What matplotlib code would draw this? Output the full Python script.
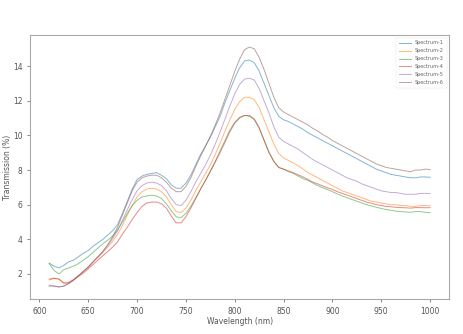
import numpy as np
import matplotlib
matplotlib.use("Agg")
import matplotlib.pyplot as plt

# wavelength grid (nm)
wavelength = np.arange(610, 1001, 5)

spectrum_1 = [2.62, 2.45, 2.35, 2.5, 2.7, 2.8, 3.0, 3.2, 3.35, 3.6, 3.8, 4.0, 4.25, 4.5, 4.85,
              5.5, 6.2, 6.9, 7.45, 7.65, 7.75, 7.8, 7.85, 7.7, 7.5, 7.15, 6.95, 6.95, 7.25, 7.7,
              8.3, 8.9, 9.4, 9.9, 10.5, 11.1, 11.9, 12.6, 13.3, 13.9, 14.3, 14.35, 14.2, 13.7, 13.0,
              12.3, 11.6, 11.1, 10.9, 10.8, 10.65, 10.5, 10.35, 10.15, 10.0, 9.85, 9.7, 9.55, 9.4, 9.25,
              9.1, 8.95, 8.8, 8.65, 8.5, 8.35, 8.2, 8.05, 7.95, 7.85, 7.75, 7.7, 7.65, 7.6, 7.55,
              7.55, 7.6, 7.6, 7.58]

spectrum_2 = [1.65, 1.75, 1.7, 1.5, 1.5, 1.7, 1.9, 2.15, 2.4, 2.7, 2.95, 3.25, 3.55, 3.9, 4.3,
              4.8, 5.4, 5.95, 6.45, 6.75, 6.9, 6.95, 6.9, 6.75, 6.45, 6.0, 5.6, 5.55, 5.8, 6.25,
              6.8, 7.3, 7.8, 8.3, 8.9, 9.55, 10.25, 10.9, 11.5, 11.95, 12.2, 12.2, 12.05, 11.6, 10.9,
              10.2, 9.5, 8.95, 8.7, 8.55, 8.4, 8.25, 8.05, 7.85, 7.7, 7.55, 7.4, 7.25, 7.1, 6.95,
              6.8, 6.7, 6.6, 6.5, 6.4, 6.3, 6.2, 6.15, 6.1, 6.05, 6.0, 6.0, 5.95, 5.95, 5.9,
              5.9, 5.95, 5.95, 5.94]

spectrum_3 = [2.6, 2.2, 2.0, 2.25, 2.35, 2.45, 2.6, 2.8, 3.0, 3.25, 3.5, 3.75, 3.95, 4.2, 4.55,
              5.0, 5.5, 5.95, 6.25, 6.45, 6.5, 6.55, 6.5, 6.35, 6.05, 5.65, 5.3, 5.25, 5.5, 5.9,
              6.4, 6.9, 7.4, 7.9, 8.45, 9.0, 9.6, 10.2, 10.7, 11.0, 11.15, 11.1, 10.9, 10.4, 9.75,
              9.05, 8.5, 8.15, 8.05, 7.9, 7.8, 7.65, 7.5, 7.4, 7.25, 7.1, 6.98, 6.87, 6.75, 6.62,
              6.5, 6.4, 6.3, 6.2, 6.1, 6.0, 5.93, 5.85, 5.78, 5.72, 5.68, 5.62, 5.6, 5.58, 5.56,
              5.6, 5.6, 5.56, 5.54]

spectrum_4 = [1.7, 1.75, 1.7, 1.45, 1.5, 1.65, 1.85, 2.05, 2.3, 2.55, 2.8, 3.05, 3.3, 3.55, 3.85,
              4.3, 4.7, 5.15, 5.55, 5.9, 6.1, 6.15, 6.15, 6.05, 5.8, 5.35, 4.95, 4.95, 5.3, 5.8,
              6.35, 6.9, 7.4, 7.95, 8.5, 9.1, 9.7, 10.3, 10.75, 11.05, 11.15, 11.15, 10.95, 10.45, 9.7,
              9.0, 8.5, 8.15, 8.05, 7.95, 7.85, 7.72, 7.6, 7.45, 7.3, 7.2, 7.08, 6.97, 6.88, 6.75,
              6.65, 6.55, 6.45, 6.35, 6.25, 6.15, 6.08, 6.0, 5.95, 5.9, 5.88, 5.85, 5.83, 5.82, 5.8,
              5.83, 5.83, 5.82, 5.83]

spectrum_5 = [1.35, 1.3, 1.25, 1.3, 1.45, 1.65, 1.9, 2.15, 2.4, 2.7, 3.0, 3.3, 3.65, 4.05, 4.5,
              5.1, 5.7, 6.3, 6.8, 7.1, 7.25, 7.3, 7.25, 7.1, 6.8, 6.35, 6.0, 5.95, 6.25, 6.75,
              7.3, 7.8, 8.3, 8.85, 9.5, 10.2, 10.95, 11.7, 12.4, 12.95, 13.25, 13.3, 13.2, 12.7, 12.0,
              11.3, 10.5, 9.9, 9.65, 9.5, 9.35, 9.2, 9.0, 8.8, 8.6, 8.45, 8.3, 8.15, 8.0, 7.85,
              7.7, 7.55, 7.45, 7.35, 7.2, 7.1, 7.0, 6.9, 6.8, 6.75, 6.7, 6.7, 6.65, 6.6, 6.6,
              6.6, 6.65, 6.65, 6.64]

spectrum_6 = [1.3, 1.3, 1.25, 1.3, 1.45, 1.65, 1.9, 2.15, 2.4, 2.7, 3.0, 3.3, 3.7, 4.15, 4.7,
              5.4, 6.1, 6.8, 7.3, 7.55, 7.65, 7.7, 7.7, 7.55, 7.3, 6.95, 6.75, 6.75, 7.05, 7.55,
              8.2, 8.8, 9.35, 9.95, 10.6, 11.3, 12.1, 12.9, 13.7, 14.4, 14.95, 15.1, 15.0, 14.5, 13.8,
              13.0, 12.2, 11.6, 11.35, 11.2, 11.05, 10.9, 10.75, 10.6, 10.4, 10.25, 10.05, 9.9, 9.7, 9.55,
              9.4, 9.25, 9.1, 8.95, 8.8, 8.65, 8.5, 8.35, 8.25, 8.15, 8.1, 8.05, 8.0, 7.95, 7.9,
              8.0, 8.0, 8.05, 8.03]

labels = ["Spectrum-1", "Spectrum-2", "Spectrum-3", "Spectrum-4", "Spectrum-5", "Spectrum-6"]
series = [spectrum_1, spectrum_2, spectrum_3, spectrum_4, spectrum_5, spectrum_6]
colors = ["tab:blue", "tab:orange", "tab:green", "tab:red", "tab:purple", "tab:brown"]

fig = plt.figure(figsize=(4.64, 3.34), dpi=100)
ax = fig.add_axes([0.065, 0.105, 0.903, 0.79])

for values, label, color in zip(series, labels, colors):
    ax.plot(wavelength, values, color=color, lw=0.7, alpha=0.55, label=label)

ax.set_xticks(np.arange(600, 1001, 50))
ax.set_yticks(np.arange(2, 15, 2))
ax.tick_params(labelsize=5.5, colors="#555555", length=2, width=0.5)
for spine in ax.spines.values():
    spine.set_color("#aaaaaa")
    spine.set_linewidth(0.8)

ax.set_xlabel("Wavelength (nm)", fontsize=5.5, color="#555555", labelpad=1)
ax.set_ylabel("Transmission (%)", fontsize=5.5, color="#555555", labelpad=0.5)

leg = ax.legend(loc="upper right", fontsize=3.5, frameon=True, handlelength=2.5,
                labelspacing=0.6, borderpad=0.6)
leg.get_frame().set_linewidth(0.3)
leg.get_frame().set_edgecolor("#dddddd")
for text in leg.get_texts():
    text.set_color("#666666")

fig.savefig("out.png", dpi=100)
